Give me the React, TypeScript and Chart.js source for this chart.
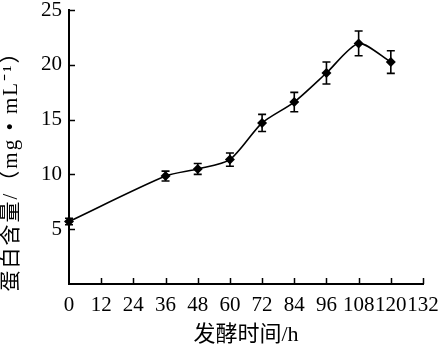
import React, { useEffect, useRef } from "react";
import { Chart, registerables } from "chart.js";

Chart.register(...registerables);

const hours = [0, 36, 48, 60, 72, 84, 96, 108, 120];
const protein = [5.7, 9.85, 10.5, 11.35, 14.7, 16.6, 19.25, 21.95, 20.25];
const errors = [0.3, 0.45, 0.5, 0.6, 0.78, 0.88, 1.0, 1.13, 1.03];
const xTitle = "发酵时间/h";
const yTitle = "蛋白含量/（mg • mL⁻¹）";

const SERIF = "'Liberation Serif', 'Times New Roman', 'Noto Sans CJK SC', serif";

const errorBarPlugin = {
  id: "errorBars",
  afterDatasetsDraw(chart: any) {
    const { ctx, scales } = chart;
    const xs = scales.x;
    const ys = scales.y;
    ctx.save();
    ctx.strokeStyle = "#000";
    ctx.lineWidth = 1.6;
    const cap = 4;
    hours.forEach((h, i) => {
      const px = xs.getPixelForValue(h);
      const top = ys.getPixelForValue(protein[i] + errors[i]);
      const bot = ys.getPixelForValue(protein[i] - errors[i]);
      ctx.beginPath();
      ctx.moveTo(px, top);
      ctx.lineTo(px, bot);
      ctx.moveTo(px - cap, top);
      ctx.lineTo(px + cap, top);
      ctx.moveTo(px - cap, bot);
      ctx.lineTo(px + cap, bot);
      ctx.stroke();
    });
    ctx.restore();
  },
  afterDraw(chart: any) {
    const { ctx, scales, chartArea } = chart;
    const xs = scales.x;
    const ys = scales.y;
    ctx.save();
    ctx.strokeStyle = "#000";
    ctx.lineWidth = 1.5;
    const len = 6;
    xs.ticks.forEach((t: any) => {
      if (t.value === 0) return;
      const px = Math.round(xs.getPixelForValue(t.value)) + 0.5;
      ctx.beginPath();
      ctx.moveTo(px, chartArea.bottom);
      ctx.lineTo(px, chartArea.bottom - len);
      ctx.stroke();
    });
    ys.ticks.forEach((t: any) => {
      if (t.value === 0) return;
      const py = Math.round(ys.getPixelForValue(t.value)) + 0.5;
      ctx.beginPath();
      ctx.moveTo(chartArea.left, py);
      ctx.lineTo(chartArea.left + len, py);
      ctx.stroke();
    });
    // axis titles
    ctx.fillStyle = "#000";
    ctx.textAlign = "center";
    ctx.textBaseline = "middle";
    ctx.font = `22px ${SERIF}`;
    ctx.fillText(xTitle, (chartArea.left + chartArea.right) / 2, 335);
    ctx.font = `21px ${SERIF}`;
    (ctx as any).letterSpacing = "2px";
    ctx.translate(11, 166);
    ctx.rotate(-Math.PI / 2);
    ctx.fillText(yTitle, 0, 0);
    ctx.restore();
  },
};

export default function App() {
  const ref = useRef<HTMLCanvasElement | null>(null);
  useEffect(() => {
    if (!ref.current) return;
    const chart = new Chart(ref.current, {
      type: "line",
      data: {
        datasets: [
          {
            data: hours.map((h, i) => ({ x: h, y: protein[i] })),
            borderColor: "#000",
            backgroundColor: "#000",
            borderWidth: 1.6,
            pointStyle: "rectRot",
            pointRadius: 5,
            pointBorderWidth: 0,
            tension: 0.25,
            clip: false as any,
          },
        ],
      },
      options: {
        animation: false,
        responsive: true,
        maintainAspectRatio: false,
        layout: { padding: { left: 0, top: 10, right: 21, bottom: 0 } },
        plugins: { legend: { display: false }, tooltip: { enabled: false } },
        scales: {
          x: {
            type: "linear",
            min: 0,
            max: 132,
            grid: { display: false, drawTicks: false },
            border: { display: true, color: "#000", width: 2 },
            ticks: {
              stepSize: 12,
              color: "#000",
              font: { family: SERIF, size: 21 },
              padding: 9,
              maxRotation: 0,
              autoSkip: false,
            },
            afterFit: (s: any) => {
              s.height = 66;
              s.paddingLeft = 0;
              s.paddingRight = 0;
            },
          },
          y: {
            min: 0,
            max: 25,
            grid: { display: false, drawTicks: false },
            border: { display: true, color: "#000", width: 2 },
            ticks: {
              stepSize: 5,
              color: "#000",
              font: { family: SERIF, size: 21 },
              padding: 7,
              callback: (v: any) => (v === 0 ? "" : String(v)),
            },
            afterFit: (s: any) => {
              s.width = 69;
              s.paddingTop = 0;
              s.paddingBottom = 0;
            },
          },
        },
      },
      plugins: [errorBarPlugin],
    });
    return () => chart.destroy();
  }, []);
  return (
    <div style={{ position: "absolute", left: 0, top: 0, width: 444, height: 350, background: "#fff" }}>
      <canvas ref={ref} />
    </div>
  );
}
